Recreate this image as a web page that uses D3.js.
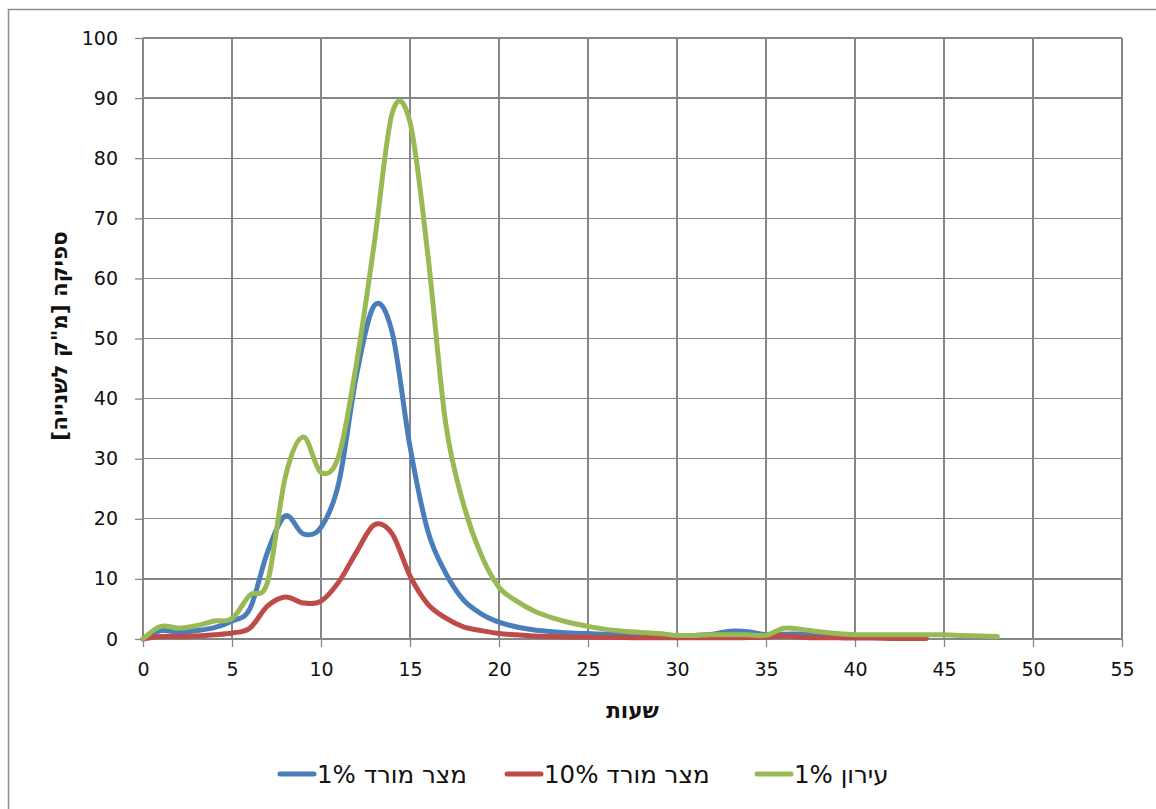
<!DOCTYPE html>
<html lang="he">
  <head>
    <meta charset="UTF-8" />
    <title>ספיקה לפי שעות</title>
    <style>
      body {
        margin: 0;
        background: #fff;
      }

      .grid line {
        stroke: #868686;
        stroke-width: 1.3px;
        shape-rendering: crispEdges;
      }

      .axis text {
        font: 19px 'DejaVu Sans', sans-serif;
        fill: #111;
      }

      .axis path {
        display: none;
      }

      .axis line {
        stroke: #868686;
        stroke-width: 1.3px;
      }

      .title {
        font: bold 21.5px 'DejaVu Sans', sans-serif;
        fill: #111;
      }

      .series {
        fill: none;
        stroke-width: 5px;
        stroke-linejoin: round;
        stroke-linecap: round;
      }

      .legend text {
        font: 24.5px 'DejaVu Sans', sans-serif;
        fill: #111;
      }
    </style>
  </head>
  <body>
    <svg width="1156" height="809"></svg>

    <script src="https://cdn.jsdelivr.net/npm/d3@7"></script>
    <script>
      // hours are 0,1,2,... for each series (index = hour)
      var seriesNames = ['מצר מורד 1%', 'מצר מורד 10%', 'עירון 1%'];
      var seriesColors = ['#4a7ebb', '#be4b48', '#98b954'];

      var mildOne = [
        0, 1.4, 1.1, 1.4, 1.9, 3.0, 5.0, 14.5, 20.5, 17.5, 18.6, 26, 44, 55.5,
        51, 32, 18, 11, 6.5, 4.2, 2.8, 2.0, 1.5, 1.2, 1.0, 0.9, 0.8, 0.7, 0.6,
        0.5, 0.5, 0.6, 0.8, 1.3, 1.2, 0.7, 0.8, 0.8, 0.7, 0.6, 0.5, 0.5, 0.5,
        0.4, 0.4,
      ];
      var mildTen = [
        0, 0.4, 0.4, 0.5, 0.7, 1.0, 1.8, 5.5, 7.0, 6.0, 6.3, 9.5, 14.5, 19,
        17.5, 10.5, 5.8, 3.5, 2.0, 1.4, 0.9, 0.7, 0.5, 0.4, 0.35, 0.3, 0.25,
        0.25, 0.2, 0.2, 0.2, 0.2, 0.2, 0.2, 0.25, 0.3, 0.5, 0.3, 0.2, 0.2, 0.15,
        0.15, 0.1, 0.1, 0.1,
      ];
      var iron = [
        0, 2.1, 1.8, 2.2, 3.0, 3.4, 7.3, 9.5, 27, 33.6, 27.7, 30.5, 46, 66,
        87.5, 86, 64, 36, 22.5, 14, 8.6, 6.3, 4.6, 3.5, 2.7, 2.1, 1.6, 1.3, 1.1,
        0.9, 0.6, 0.6, 0.7, 0.7, 0.7, 0.6, 1.8, 1.6, 1.2, 0.9, 0.7, 0.7, 0.7,
        0.7, 0.7, 0.7, 0.6, 0.5, 0.4,
      ];

      var xTicks = [0, 5, 10, 15, 20, 25, 30, 35, 40, 45, 50, 55];
      var yTicks = [0, 10, 20, 30, 40, 50, 60, 70, 80, 90, 100];

      var xTitle = 'שעות';
      var yTitle = 'ספיקה [מ"ק לשנייה]';

      var svg = d3.select('svg'),
        margin = { left: 143, right: 34, top: 38, bottom: 170 },
        width = +svg.attr('width') - margin.left - margin.right,
        height = +svg.attr('height') - margin.top - margin.bottom;

      // chart border
      svg
        .append('rect')
        .attr('x', 8.5)
        .attr('y', 9.5)
        .attr('width', 1300)
        .attr('height', 1000)
        .attr('fill', 'none')
        .attr('stroke', '#8c8c8c')
        .attr('stroke-width', 1.5);

      var g = svg
        .append('g')
        .attr('transform', 'translate(' + margin.left + ',' + margin.top + ')');

      var x = d3.scaleLinear().domain([0, 55]).range([0, width]);
      var y = d3.scaleLinear().domain([0, 100]).range([height, 0]);

      // grid
      var grid = g.append('g').attr('class', 'grid');
      grid
        .selectAll('.gx')
        .data(xTicks)
        .enter()
        .append('line')
        .attr('x1', (d) => x(d))
        .attr('x2', (d) => x(d))
        .attr('y1', 0)
        .attr('y2', height);
      grid
        .selectAll('.gy')
        .data(yTicks)
        .enter()
        .append('line')
        .attr('x1', 0)
        .attr('x2', width)
        .attr('y1', (d) => y(d))
        .attr('y2', (d) => y(d));

      g.append('g')
        .attr('class', 'axis')
        .attr('transform', 'translate(0,' + height + ')')
        .call(d3.axisBottom(x).tickValues(xTicks).tickSize(8).tickPadding(16));

      g.append('g')
        .attr('class', 'axis')
        .call(d3.axisLeft(y).tickValues(yTicks).tickSize(8).tickPadding(17));

      // series lines, drawn in order so the last one is on top
      var line = d3
        .line()
        .x((d, i) => x(i))
        .y((d) => y(d))
        .curve(d3.curveCardinal.tension(0));

      var allSeries = [mildOne, mildTen, iron];

      g.selectAll('.series')
        .data(allSeries)
        .enter()
        .append('path')
        .attr('class', 'series')
        .attr('stroke', (d, i) => seriesColors[i])
        .attr('d', line);

      // axis titles
      svg
        .append('text')
        .attr('class', 'title')
        .attr('x', margin.left + x(27.5))
        .attr('y', 718)
        .attr('text-anchor', 'middle')
        .attr('direction', 'rtl')
        .text(xTitle);

      svg
        .append('text')
        .attr('class', 'title')
        .attr('transform', 'translate(67,336) rotate(-90)')
        .attr('text-anchor', 'middle')
        .attr('direction', 'rtl')
        .text(yTitle);

      // legend
      var legendX = [280, 507, 757];
      var legend = svg
        .append('g')
        .attr('class', 'legend')
        .selectAll('g')
        .data(seriesNames)
        .enter()
        .append('g')
        .attr('transform', (d, i) => 'translate(' + legendX[i] + ',774)');

      legend
        .append('line')
        .attr('x1', 0)
        .attr('x2', 34)
        .attr('stroke', (d, i) => seriesColors[i])
        .attr('stroke-width', 5)
        .attr('stroke-linecap', 'round');

      legend
        .append('text')
        .attr('x', 37)
        .attr('y', 8.5)
        .attr('direction', 'rtl')
        .attr('text-anchor', 'end')
        .text((d) => d);
    </script>
  </body>
</html>
